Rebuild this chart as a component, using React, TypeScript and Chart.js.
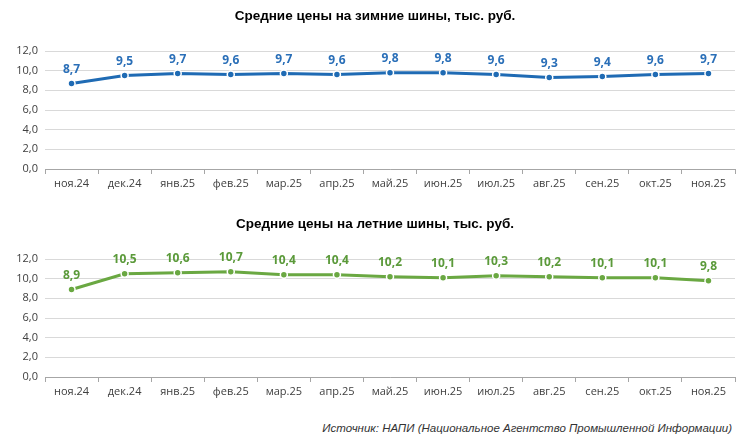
import React, { useEffect, useRef } from 'react';
import { Chart, registerables } from 'chart.js';

Chart.register(...registerables);

const months = ['ноя.24', 'дек.24', 'янв.25', 'фев.25', 'мар.25', 'апр.25', 'май.25', 'июн.25', 'июл.25', 'авг.25', 'сен.25', 'окт.25', 'ноя.25'];
const winterPrices = [8.7, 9.5, 9.7, 9.6, 9.7, 9.6, 9.8, 9.8, 9.6, 9.3, 9.4, 9.6, 9.7];
const summerPrices = [8.9, 10.5, 10.6, 10.7, 10.4, 10.4, 10.2, 10.1, 10.3, 10.2, 10.1, 10.1, 9.8];
const yTicks = [0, 2, 4, 6, 8, 10, 12];

const fmt = (v: number) => v.toFixed(1).replace('.', ',');

// подписи значений над точками
const valueLabels = {
  id: 'valueLabels',
  afterDatasetsDraw(chart: any) {
    const ctx = chart.ctx;
    chart.data.datasets.forEach((ds: any, i: number) => {
      const meta = chart.getDatasetMeta(i);
      ctx.save();
      ctx.font = 'bold 12px "Open Sans", Arial, sans-serif';
      ctx.fillStyle = ds.labelColor;
      ctx.textAlign = 'center';
      ctx.textBaseline = 'bottom';
      meta.data.forEach((pt: any, j: number) => {
        ctx.fillText(fmt(ds.data[j]), pt.x, pt.y - 8);
      });
      ctx.restore();
    });
  },
};

function PriceChart({ title, data, color, labelColor }: { title: string; data: number[]; color: string; labelColor: string }) {
  const canvasRef = useRef<HTMLCanvasElement>(null);
  const chartRef = useRef<Chart | null>(null);

  useEffect(() => {
    if (chartRef.current) {
      chartRef.current.destroy();
      chartRef.current = null;
    }
    if (!canvasRef.current) return;
    const ctx = canvasRef.current.getContext('2d');
    if (!ctx) return;

    chartRef.current = new Chart(ctx, {
      type: 'line',
      data: {
        labels: months,
        datasets: [{
          data,
          borderColor: color,
          backgroundColor: color,
          borderWidth: 3,
          pointRadius: 3.5,
          pointBackgroundColor: color,
          pointBorderColor: '#ffffff',
          pointBorderWidth: 1.5,
          tension: 0,
          labelColor,
        } as any],
      },
      options: {
        animation: false,
        responsive: false,
        maintainAspectRatio: false,
        layout: { padding: { left: 0, right: 15, top: 50, bottom: 0 } },
        plugins: {
          legend: { display: false },
          tooltip: { enabled: false },
          title: { display: false },
        },
        scales: {
          x: {
            offset: true,
            grid: { offset: true, drawOnChartArea: false, drawTicks: true, tickLength: 5, color: '#a6a6a6' },
            border: { display: true, color: '#a6a6a6', width: 1 },
            ticks: { color: '#404040', font: { family: '"Open Sans", Arial, sans-serif', size: 11 }, padding: 3, maxRotation: 0 },
            afterFit: (s: any) => { s.height = 32; },
          },
          y: {
            min: 0,
            max: 12,
            afterBuildTicks: (s: any) => { s.ticks = yTicks.map(v => ({ value: v })); },
            grid: { color: '#d9d9d9', drawTicks: false },
            border: { display: false },
            ticks: {
              color: '#404040',
              font: { family: '"Open Sans", Arial, sans-serif', size: 11 },
              padding: 7,
              callback: (v: any) => fmt(Number(v)),
            },
            afterFit: (s: any) => { s.width = 45; },
          },
        },
      },
      plugins: [valueLabels],
    });

    return () => {
      if (chartRef.current) {
        chartRef.current.destroy();
        chartRef.current = null;
      }
    };
  }, [title, data, color, labelColor]);

  return (
    <div style={{ position: 'relative', width: 750, height: 200 }}>
      <canvas ref={canvasRef} width={750} height={200} style={{ display: 'block', width: 750, height: 200 }} />
      <div style={{
        position: 'absolute', left: 0, top: 6, width: 750, textAlign: 'center',
        fontFamily: 'Arial, "Liberation Sans", sans-serif', fontWeight: 'bold', fontSize: 13.5,
        lineHeight: '18px', color: '#000000', whiteSpace: 'nowrap',
      }}>
        {title}
      </div>
    </div>
  );
}

export default function App() {
  return (
    <div style={{ position: 'fixed', left: 0, top: 0, width: 750, height: 440, background: '#ffffff' }}>
      <div style={{ position: 'absolute', left: 0, top: 1 }}>
        <PriceChart title="Средние цены на зимние шины, тыс. руб." data={winterPrices} color="#1f6bb4" labelColor="#2a6fb8" />
      </div>
      <div style={{ position: 'absolute', left: 0, top: 209 }}>
        <PriceChart title="Средние цены на летние шины, тыс. руб." data={summerPrices} color="#6aa842" labelColor="#5b9a3a" />
      </div>
      <div style={{
        position: 'absolute', right: 18, top: 420, fontFamily: 'Arial, "Liberation Sans", sans-serif',
        fontStyle: 'italic', fontSize: 11.5, color: '#333333', whiteSpace: 'nowrap', lineHeight: '16px',
      }}>
        Источник: НАПИ (Национальное Агентство Промышленной Информации)
      </div>
    </div>
  );
}
